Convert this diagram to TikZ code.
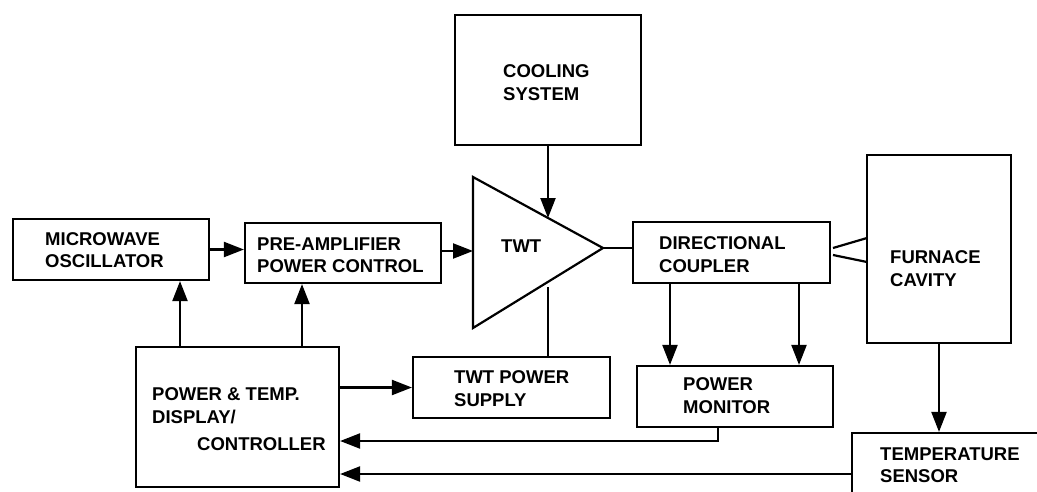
\documentclass[tikz,border=0pt]{standalone}
\usepackage{fontspec}
\setmainfont{Liberation Sans}
\usetikzlibrary{arrows.meta}
\begin{document}
\begin{tikzpicture}[x=1pt,y=-1pt,
  blk/.style={draw, line width=2.2pt, inner sep=0pt},
  lbl/.style={anchor=base west, inner sep=0pt, font=\bfseries\fontsize{18.5}{22}\selectfont},
  ln/.style={line width=2.2pt},
  arr/.style={line width=2.2pt, -{Triangle[length=20pt,width=15pt]}}]
\fill[white] (0,0) rectangle (1037,491);
\clip (0,0) rectangle (1037,491);
% boxes
\node[blk, minimum width=196pt, minimum height=61pt] (osc) at (111,249.5) {};
\node[blk, minimum width=196pt, minimum height=60pt] (pre) at (343,253) {};
\node[blk, minimum width=186pt, minimum height=130pt] (cool) at (548,80) {};
\node[blk, minimum width=197pt, minimum height=61pt] (dc) at (731.5,252.5) {};
\node[blk, minimum width=144pt, minimum height=188pt] (fur) at (939,249) {};
\node[blk, minimum width=196pt, minimum height=61pt] (pm) at (735,396.5) {};
\node[blk, minimum width=197pt, minimum height=61pt] (tps) at (511.5,387.5) {};
\node[blk, minimum width=203pt, minimum height=140pt] (ctrl) at (237.5,417) {};
\node[blk, minimum width=208pt, minimum height=82pt] (ts) at (956,474) {};
% TWT triangle
\coordinate (tA) at (473,177);
\coordinate (tB) at (473,328);
\coordinate (tApex) at (603,248);
\draw[ln, line join=miter] (tA) -- (tApex) -- (tB) -- cycle;
\coordinate (tIn) at (473,251);
\coordinate (tTop) at (548,218);
\coordinate (tBot) at (548,287);
% helper coordinates
\coordinate (x180) at (180,0);
\coordinate (x302) at (302,0);
\coordinate (x670) at (670,0);
\coordinate (x799) at (799,0);
\coordinate (pmC) at (718,441);
\coordinate (h1) at (833,248);
\coordinate (h2) at (867,238);
\coordinate (h3) at (833,255);
\coordinate (h4) at (867,262);
% connectors
\draw[arr] (osc.east) -- (osc.east -| pre.west);
\draw[arr] (pre.east |- tIn) -- (tIn);
\draw[arr] (cool.south) -- (tTop);
\draw[ln] (tApex) -- (tApex -| dc.west);
\draw[ln] (tBot) -- (tBot |- tps.north);
\draw[arr] (dc.south -| x670) -- (pm.north -| x670);
\draw[arr] (dc.south -| x799) -- (pm.north -| x799);
\draw[ln] (h1) -- (h2);
\draw[ln] (h3) -- (h4);
\draw[arr] (ctrl.north -| x180) -- (osc.south -| x180);
\draw[arr] (ctrl.north -| x302) -- (pre.south -| x302);
\draw[arr] (tps.west -| ctrl.east) -- (tps.west);
\draw[arr] (pm.south -| pmC) -- (pmC) -- (pmC -| ctrl.east);
\draw[arr] (fur.south) -- (fur.south |- ts.north);
\draw[arr] (ts.west) -- (ts.west -| ctrl.east);
% labels
\node[lbl] (l1) at (45,245) {MICROWAVE};
\node[lbl] (l2) at (45,267) {OSCILLATOR};
\node[lbl] (l3) at (257,250) {PRE-AMPLIFIER};
\node[lbl] (l4) at (257,272) {POWER CONTROL};
\node[lbl] (l5) at (503,77) {COOLING};
\node[lbl] (l6) at (503,100) {SYSTEM};
\node[lbl] (l7) at (501,252) {TWT};
\node[lbl] (l8) at (659,249) {DIRECTIONAL};
\node[lbl] (l9) at (659,272) {COUPLER};
\node[lbl] (l10) at (890,263) {FURNACE};
\node[lbl] (l11) at (890,286) {CAVITY};
\node[lbl] (l12) at (683,390) {POWER};
\node[lbl] (l13) at (683,413) {MONITOR};
\node[lbl] (l14) at (454,383) {TWT POWER};
\node[lbl] (l15) at (454,406) {SUPPLY};
\node[lbl] (l16) at (880,460) {TEMPERATURE};
\node[lbl] (l17) at (880,482) {SENSOR};
\node[lbl] (l18) at (152,400) {POWER \& TEMP.};
\node[lbl] (l19) at (152,423) {DISPLAY/};
\node[lbl] (l20) at (197,450) {CONTROLLER};
\end{tikzpicture}
\end{document}
